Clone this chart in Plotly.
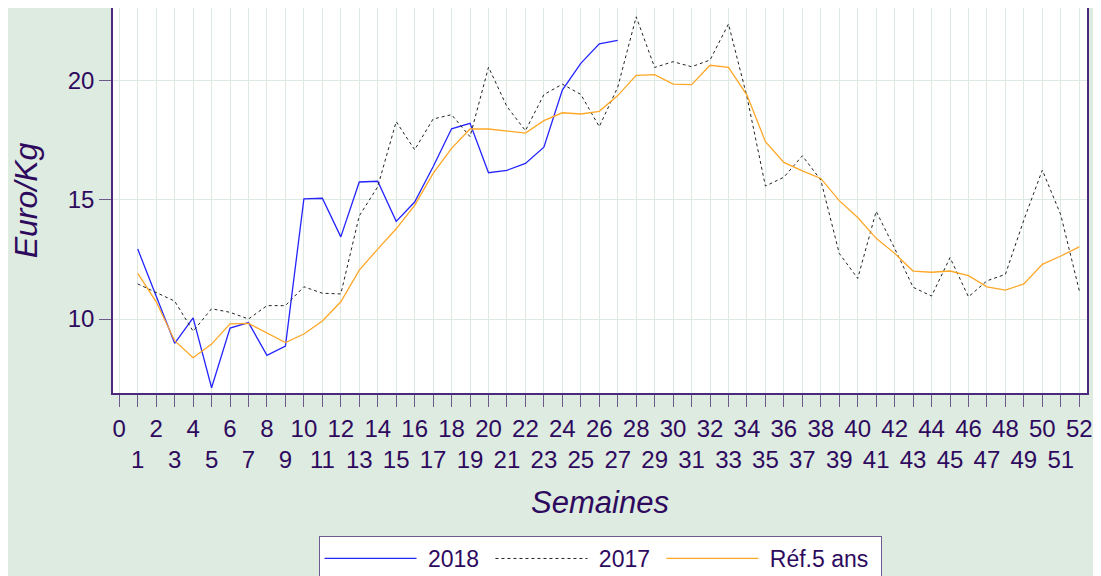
import plotly.graph_objects as go

weeks_2018 = list(range(1, 28))
prix_2018 = [12.93, 10.95, 8.98, 10.05, 7.12, 9.62, 9.85, 8.48, 8.87, 15.03,
             15.06, 13.44, 15.74, 15.77, 14.09, 14.90, 16.38, 17.97, 18.20, 16.13,
             16.23, 16.52, 17.20, 19.59, 20.71, 21.53, 21.67]

weeks_2017 = list(range(1, 53))
prix_2017 = [11.47, 11.12, 10.75, 9.49, 10.43, 10.28, 10.00, 10.56, 10.56, 11.35,
             11.08, 11.05, 14.32, 15.54, 18.27, 17.09, 18.38, 18.56, 17.64, 20.55,
             18.90, 17.89, 19.40, 19.84, 19.41, 18.06, 19.71, 22.66, 20.54, 20.78,
             20.57, 20.85, 22.36, 19.31, 15.57, 15.94, 16.84, 15.82, 12.75, 11.70,
             14.51, 12.96, 11.33, 10.96, 12.57, 10.93, 11.60, 11.87, 14.15, 16.24,
             14.36, 11.19]

weeks_ref = list(range(1, 53))
prix_ref = [11.91, 10.72, 9.09, 8.38, 8.95, 9.80, 9.82, 9.40, 9.01, 9.37,
            9.92, 10.72, 12.05, 12.93, 13.78, 14.76, 16.10, 17.15, 17.96, 17.96,
            17.88, 17.79, 18.31, 18.64, 18.59, 18.70, 19.36, 20.21, 20.24, 19.84,
            19.82, 20.63, 20.54, 19.38, 17.43, 16.56, 16.21, 15.89, 14.96, 14.25,
            13.38, 12.75, 12.01, 11.96, 12.01, 11.82, 11.35, 11.21, 11.47, 12.29,
            12.64, 13.02]

series_names = ["2018", "2017", "Réf.5 ans"]

x_ticks = list(range(0, 53))
x_ticktext = [str(n) if n % 2 == 0 else "<br>" + str(n) for n in x_ticks]
y_ticks = [10, 15, 20]

TXT = "#2e0a5e"
AX = "#4b2a7b"
GRID = "#dde9e1"
BG = "#deebe0"
FONT = "Liberation Sans, Arial, sans-serif"
NB = "\u00a0"


def legend_label(s):
    return NB + s + NB


fig = go.Figure()
fig.add_trace(go.Scatter(x=weeks_2018, y=prix_2018, mode="lines",
                         name=legend_label(series_names[0]),
                         line=dict(color="#2424ff", width=1.3)))
fig.add_trace(go.Scatter(x=weeks_2017, y=prix_2017, mode="lines",
                         name=legend_label(series_names[1]),
                         line=dict(color="#222222", width=1, dash="dot")))
fig.add_trace(go.Scatter(x=weeks_ref, y=prix_ref, mode="lines",
                         name=legend_label(series_names[2]),
                         line=dict(color="#ffa726", width=1.3)))

fig.update_layout(
    width=1101, height=576,
    margin=dict(l=105, r=22, t=0, b=191),
    paper_bgcolor=BG, plot_bgcolor="white",
    font=dict(family=FONT, color=TXT, size=24),
    showlegend=True,
    legend=dict(orientation="h", x=0.5, xanchor="center", xref="paper",
                y=0.0833, yanchor="top", yref="container",
                bgcolor="white", bordercolor="#6f5a92", borderwidth=1,
                font=dict(size=23, color=TXT), itemwidth=92,
                tracegroupgap=0),
    xaxis=dict(range=[-0.34, 52.42], tickmode="array", tickvals=x_ticks,
               ticktext=x_ticktext, showgrid=True, gridcolor=GRID, gridwidth=1.3,
               zeroline=False, ticks="outside", ticklen=12, tickwidth=1,
               tickcolor="#6c5a8a", showline=True, linecolor=AX, linewidth=2,
               mirror=True, tickangle=0, tickfont=dict(size=24, color=TXT),
               automargin=False, ticklabelstandoff=1,
               title=dict(text="<i>Semaines</i>",
                          font=dict(size=31, color=TXT), standoff=19)),
    yaxis=dict(range=[6.9, 23.03], tickmode="array", tickvals=y_ticks,
               showgrid=True, gridcolor=GRID, gridwidth=1.3, zeroline=False,
               ticks="outside", ticklen=12, tickwidth=1, tickcolor="#6c5a8a",
               showline=True, linecolor=AX, linewidth=1.5, mirror=True,
               tickfont=dict(size=24, color=TXT), automargin=False,
               title=dict(text="<i>Euro/Kg</i>",
                          font=dict(size=32, color=TXT), standoff=23)),
)

fig.write_html("out.html")
